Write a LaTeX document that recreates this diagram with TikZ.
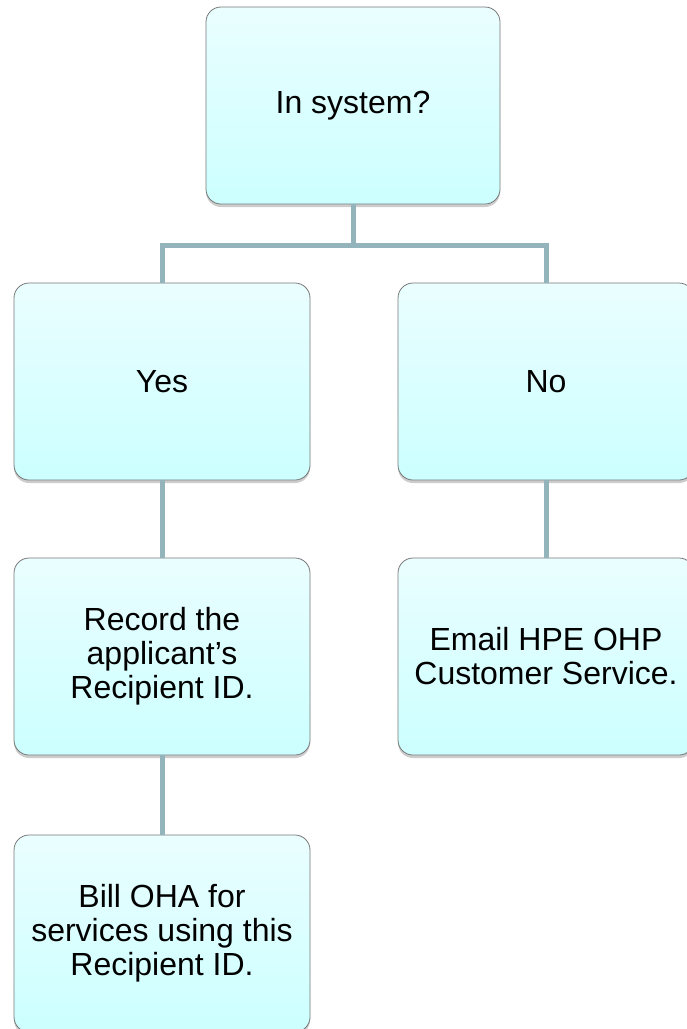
\documentclass[tikz,border=0pt]{standalone}
\usepackage{fontspec}
\setmainfont{Liberation Sans}
\usetikzlibrary{shadows}
\definecolor{boxtop}{RGB}{234,254,255}
\definecolor{boxbot}{RGB}{204,255,255}
\definecolor{boxline}{RGB}{120,120,120}
\definecolor{linkcol}{RGB}{146,180,186}
\begin{document}
\begin{tikzpicture}[x=1pt, y=-1pt,
  box/.style={rounded corners=15pt, draw=boxline, line width=0.8pt, top color=boxtop, bottom color=boxbot,
    minimum width=296pt, minimum height=197pt, align=center, inner sep=0pt,
    font=\fontsize{32}{34}\selectfont,
    drop shadow={shadow xshift=0pt, shadow yshift=-3pt, opacity=0.4}},
  link/.style={draw=linkcol, line width=5pt}]
\useasboundingbox (0,0) rectangle (687,1029);
\node[box, minimum width=294pt] (sys) at (353,105.5){In system?};
\node[box] (yes) at (162,381.5){Yes};
\node[box] (no) at (546,381.5){No};
\node[box] (rec) at (162,656.5){Record the\\applicant’s\\Recipient ID.};
\node[box] (mail) at (546,656.5){Email HPE OHP\\Customer Service.};
\node[box] (bill) at (162,933.5){Bill OHA for\\services using this\\Recipient ID.};
\coordinate (fork) at (353,245);
\draw[link](sys.south) -- (fork);
\draw[link](fork) -| (yes.north);
\draw[link](fork) -| (no.north);
\draw[link](yes.south) -- (rec.north);
\draw[link](no.south) -- (mail.north);
\draw[link](rec.south) -- (bill.north);
\end{tikzpicture}
\end{document}
